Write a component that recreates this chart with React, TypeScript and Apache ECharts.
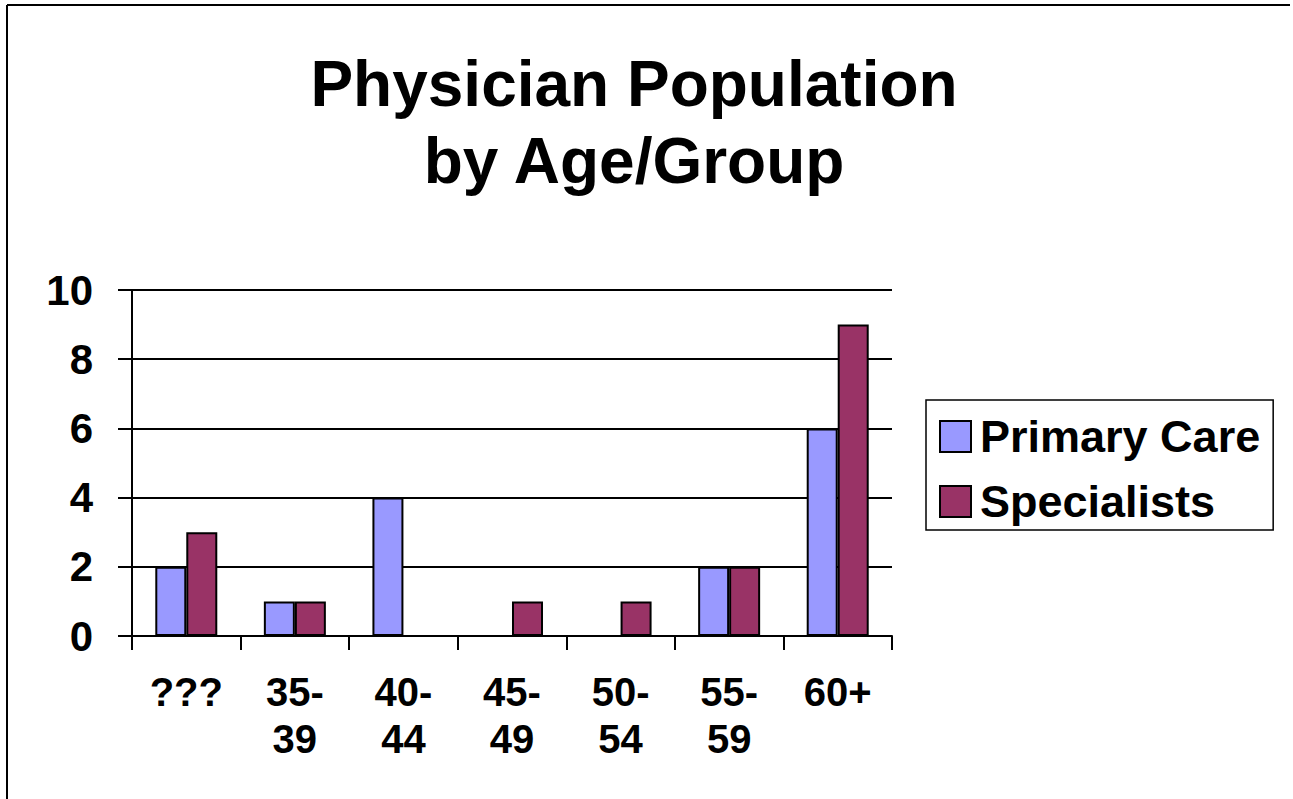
import React, { useEffect, useRef } from "react";
import * as echarts from "echarts";

const categories = ["???", "35-\n39", "40-\n44", "45-\n49", "50-\n54", "55-\n59", "60+"];
const primaryCare = [2, 1, 4, 0, 0, 2, 6];
const specialists = [3, 1, 0, 1, 1, 2, 9];
const titleLines = ["Physician Population", "by Age/Group"];

const FONT = "'Liberation Sans', Arial, Helvetica, sans-serif";

export default function App() {
  const ref = useRef<HTMLDivElement>(null);
  useEffect(() => {
    if (!ref.current) return;
    const chart = echarts.init(ref.current, null, { renderer: "svg" });
    chart.setOption({
      animation: false,
      backgroundColor: "#ffffff",
      textStyle: { fontFamily: FONT },
      graphic: [
        {
          type: "line",
          shape: { x1: 7, y1: 5, x2: 1290, y2: 5 },
          style: { stroke: "#000", lineWidth: 2 },
        },
        {
          type: "line",
          shape: { x1: 7, y1: 5, x2: 7, y2: 799 },
          style: { stroke: "#000", lineWidth: 2 },
        },
        {
          type: "text",
          x: 634,
          y: 45,
          style: {
            text: titleLines.join("\n"),
            textAlign: "center",
            textVerticalAlign: "top",
            fontFamily: FONT,
            fontWeight: "bold",
            fontSize: 64,
            lineHeight: 77,
            fill: "#000",
          },
        },
      ],
      legend: {
        orient: "vertical",
        left: 926,
        top: 400,
        padding: [14, 13, 6, 13],
        itemGap: 20,
        itemWidth: 31,
        itemHeight: 31,
        borderColor: "#000",
        borderWidth: 1.5,
        backgroundColor: "#fff",
        icon: "rect",
        textStyle: {
          fontFamily: FONT,
          fontWeight: "bold",
          fontSize: 45,
          lineHeight: 44,
          color: "#000",
          padding: [0, 0, 0, 4],
        },
        data: ["Primary Care", "Specialists"],
      },
      grid: { left: 132, right: 401, top: 290, bottom: 163 },
      xAxis: {
        type: "category",
        data: categories,
        axisLine: { lineStyle: { color: "#000", width: 2 } },
        axisTick: { show: true, length: 14, lineStyle: { color: "#000", width: 2 } },
        axisLabel: {
          interval: 0,
          margin: 32,
          fontFamily: FONT,
          fontWeight: "bold",
          fontSize: 40,
          lineHeight: 47,
          color: "#000",
          verticalAlign: "top",
        },
      },
      yAxis: {
        type: "value",
        min: 0,
        max: 10,
        interval: 2,
        axisLine: { show: true, lineStyle: { color: "#000", width: 2 } },
        axisTick: { show: true, length: 14, lineStyle: { color: "#000", width: 2 } },
        splitLine: { show: true, lineStyle: { color: "#000", width: 2 } },
        axisLabel: {
          margin: 39,
          fontFamily: FONT,
          fontWeight: "bold",
          fontSize: 42,
          color: "#000",
        },
      },
      series: [
        {
          name: "Primary Care",
          type: "bar",
          data: primaryCare,
          barWidth: 31,
          barGap: "0%",
          itemStyle: { color: "#9999FF", borderColor: "#000", borderWidth: 2 },
        },
        {
          name: "Specialists",
          type: "bar",
          data: specialists,
          barWidth: 31,
          barGap: "0%",
          itemStyle: { color: "#993366", borderColor: "#000", borderWidth: 2 },
        },
      ],
    });
    return () => chart.dispose();
  }, []);
  return (
    <div
      ref={ref}
      style={{ position: "absolute", left: 0, top: 0, width: 1293, height: 799 }}
    />
  );
}
